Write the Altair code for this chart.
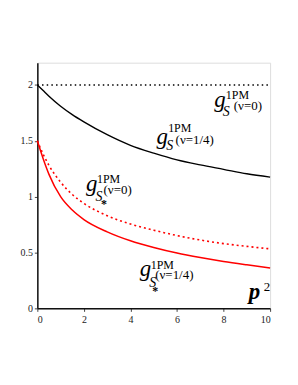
import altair as alt
import pandas as pd

# ---- data ----
p2 = [0, 0.25, 0.5, 1, 1.5, 2, 3, 4, 5, 6, 7, 8, 9, 10]
gS_nu14 = [2.0, 1.95, 1.90, 1.81, 1.735, 1.67, 1.555, 1.46, 1.39, 1.33, 1.285, 1.245, 1.205, 1.175]
gSs_nu0 = [1.5, 1.38, 1.28, 1.13, 1.02, 0.94, 0.83, 0.755, 0.70, 0.652, 0.612, 0.58, 0.555, 0.533]
gSs_nu14 = [1.5, 1.34, 1.20, 1.0, 0.88, 0.795, 0.685, 0.605, 0.545, 0.495, 0.455, 0.42, 0.39, 0.362]
gS_nu0_x = [0, 10]
gS_nu0 = [2.0, 2.0]

x_ticks = [0, 2, 4, 6, 8, 10]
y_ticks = [0, 0.5, 1, 1.5, 2]

# annotation pieces (data coordinates of left/baseline)
g_lab = pd.DataFrame({"x": [7.60, 5.12, 2.09, 4.40], "y": [1.799, 1.470, 1.051, 0.289], "t": ["g"] * 4})
pm_lab = pd.DataFrame({"x": [8.098, 5.620, 2.564, 4.872], "y": [1.879, 1.577, 1.122, 0.356], "t": ["1PM"] * 4})
s_lab = pd.DataFrame({"x": [7.970, 5.534, 2.500, 4.808], "y": [1.719, 1.416, 0.962, 0.187], "t": ["S"] * 4})
star_lab = pd.DataFrame({"x": [2.735, 4.936], "y": [0.900, 0.116], "t": ["*"] * 2})
nu_lab = pd.DataFrame({"x": [8.440, 5.940, 2.842, 5.064], "y": [1.777, 1.474, 1.020, 0.267],
                       "t": ["(ν=0)", "(ν=1/4)", "(ν=0)", "(ν=1/4)"]})
p_lab = pd.DataFrame({"x": [9.081], "y": [0.080], "t": ["p"]})
sq_lab = pd.DataFrame({"x": [9.722], "y": [0.151], "t": ["2"]})

# ---- chart ----
SERIF = "Liberation Serif"
xs = alt.Scale(domain=[0, 10], nice=False, zero=False)
ys = alt.Scale(domain=[0, 2.2], nice=False, zero=False)
xaxis = alt.Axis(values=x_ticks, title=None, grid=False, labelFont=SERIF, labelFontSize=10,
                 labelColor="#222", tickSize=3, tickColor="#444", labelPadding=3,
                 domainColor="#111", domainWidth=1.5, labelExpr="''+datum.value")
yaxis = alt.Axis(values=y_ticks, title=None, grid=False, labelFont=SERIF, labelFontSize=10,
                 labelColor="#222", tickSize=3, tickColor="#444", labelPadding=2,
                 domainColor="#111", domainWidth=1.5, labelExpr="''+datum.value")
X = alt.X("x:Q", scale=xs, axis=xaxis)
Y = alt.Y("y:Q", scale=ys, axis=yaxis)


def line(xv, yv, color, dash=None, width=1.5):
    df = pd.DataFrame({"x": xv, "y": yv})
    kw = dict(color=color, strokeWidth=width, interpolate="monotone")
    if dash:
        kw["strokeDash"] = dash
    return alt.Chart(df).mark_line(**kw).encode(x=X, y=Y)


def text(df, size, style="normal", weight="normal", color="black"):
    return alt.Chart(df).mark_text(font=SERIF, fontSize=size, fontStyle=style, fontWeight=weight,
                                   align="left", baseline="alphabetic", color=color).encode(
        x=X, y=Y, text="t:N")


layers = [
    line(gS_nu0_x, gS_nu0, "black", dash=[1.5, 3.2], width=1.5),
    line(p2, gS_nu14, "black", width=1.4),
    line(p2, gSs_nu0, "#ff0000", dash=[2, 3], width=1.6),
    line(p2, gSs_nu14, "#ff0000", width=1.5),
    text(g_lab, 23, style="italic"),
    text(pm_lab, 12),
    text(s_lab, 14, style="italic"),
    text(star_lab, 12, weight="bold"),
    text(nu_lab, 13),
    text(p_lab, 23, style="italic", weight="bold"),
    text(sq_lab, 13),
]

chart = alt.layer(*layers).properties(
    width=234, height=247,
    autosize=alt.AutoSizeParams(type="none"),
    padding={"left": 29.5, "top": 54, "right": 20, "bottom": 60},
).configure_view(stroke=None).configure(background="white")

chart.save("out.html", embed_options={"renderer": "svg", "actions": False})
